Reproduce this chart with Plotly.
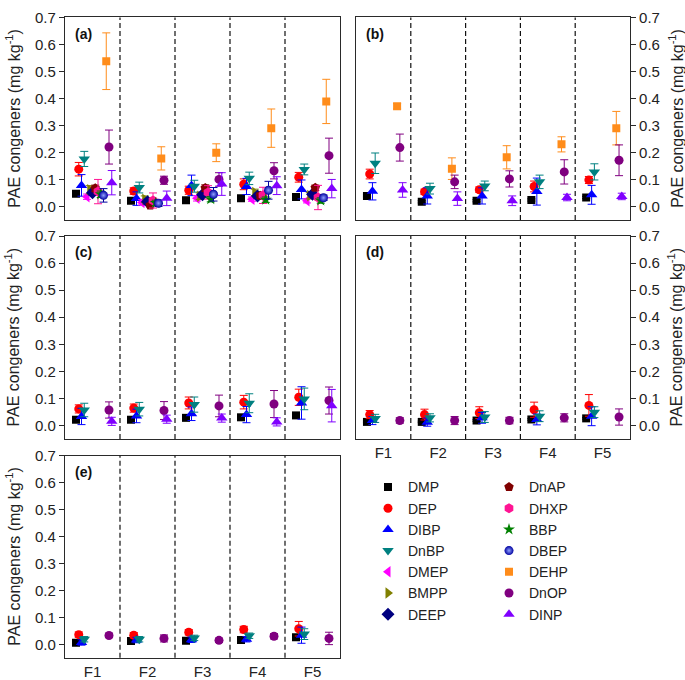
import plotly.graph_objects as go

# ---------------- data ----------------
groups = ["F1", "F2", "F3", "F4", "F5"]
congeners = ["DMP", "DEP", "DIBP", "DnBP", "DMEP", "BMPP", "DEEP",
             "DnAP", "DHXP", "BBP", "DBEP", "DEHP", "DnOP", "DINP"]

# panel (a): mean and SD (mg kg-1)
a_DMP = [0.047, 0.021, 0.023, 0.030, 0.035]
a_DMP_sd = [0.004, 0.004, 0.004, 0.004, 0.004]
a_DEP = [0.138, 0.057, 0.060, 0.082, 0.108]
a_DEP_sd = [0.025, 0.012, 0.015, 0.020, 0.018]
a_DIBP = [0.078, 0.029, 0.078, 0.074, 0.063]
a_DIBP_sd = [0.040, 0.025, 0.038, 0.030, 0.035]
a_DnBP = [0.176, 0.070, 0.075, 0.104, 0.137]
a_DnBP_sd = [0.028, 0.020, 0.022, 0.023, 0.020]
a_DMEP = [0.036, 0.015, 0.030, 0.027, 0.021]
a_DMEP_sd = [0.010, 0.010, 0.010, 0.008, 0.008]
a_BMPP = [0.062, 0.027, 0.038, 0.052, 0.040]
a_BMPP_sd = [0.015, 0.012, 0.012, 0.012, 0.012]
a_DEEP = [0.051, 0.017, 0.043, 0.039, 0.045]
a_DEEP_sd = [0.010, 0.010, 0.010, 0.010, 0.010]
a_DnAP = [0.067, 0.004, 0.068, 0.040, 0.069]
a_DnAP_sd = [0.012, 0.006, 0.012, 0.010, 0.010]
a_DHXP = [0.055, 0.022, 0.052, 0.041, 0.033]
a_DHXP_sd = [0.045, 0.028, 0.025, 0.030, 0.045]
a_BBP = [0.045, 0.013, 0.027, 0.025, 0.022]
a_BBP_sd = [0.012, 0.010, 0.010, 0.010, 0.010]
a_DBEP = [0.041, 0.012, 0.045, 0.060, 0.032]
a_DBEP_sd = [0.025, 0.012, 0.025, 0.033, 0.010]
a_DEHP = [0.538, 0.178, 0.199, 0.290, 0.389]
a_DEHP_sd = [0.105, 0.043, 0.033, 0.071, 0.082]
a_DnOP = [0.220, 0.097, 0.100, 0.132, 0.188]
a_DnOP_sd = [0.063, 0.015, 0.025, 0.030, 0.065]
a_DINP = [0.088, 0.030, 0.083, 0.077, 0.066]
a_DINP_sd = [0.045, 0.027, 0.042, 0.033, 0.034]

# panel (b)
b_DMP = [0.039, 0.017, 0.021, 0.024, 0.033]
b_DMP_sd = [0.004, 0.004, 0.004, 0.004, 0.004]
b_DEP = [0.120, 0.054, 0.062, 0.074, 0.098]
b_DEP_sd = [0.018, 0.010, 0.010, 0.020, 0.013]
b_DIBP = [0.056, 0.039, 0.039, 0.055, 0.043]
b_DIBP_sd = [0.032, 0.030, 0.030, 0.050, 0.035]
b_DnBP = [0.160, 0.066, 0.076, 0.091, 0.128]
b_DnBP_sd = [0.038, 0.020, 0.018, 0.025, 0.030]
b_DEHP = [0.371, 0.140, 0.182, 0.230, 0.290]
b_DEHP_sd = [0.010, 0.040, 0.043, 0.028, 0.062]
b_DnOP = [0.218, 0.091, 0.102, 0.128, 0.171]
b_DnOP_sd = [0.050, 0.025, 0.030, 0.045, 0.057]
b_DINP = [0.061, 0.029, 0.021, 0.033, 0.037]
b_DINP_sd = [0.027, 0.025, 0.018, 0.012, 0.012]

# panel (c)
c_DMP = [0.021, 0.021, 0.028, 0.030, 0.037]
c_DMP_sd = [0.004, 0.004, 0.004, 0.004, 0.004]
c_DEP = [0.061, 0.064, 0.083, 0.086, 0.104]
c_DEP_sd = [0.015, 0.015, 0.022, 0.025, 0.030]
c_DIBP = [0.033, 0.035, 0.043, 0.040, 0.083]
c_DIBP_sd = [0.030, 0.025, 0.025, 0.030, 0.060]
c_DnBP = [0.057, 0.060, 0.077, 0.082, 0.098]
c_DnBP_sd = [0.025, 0.025, 0.028, 0.035, 0.040]
c_DnOP = [0.057, 0.055, 0.072, 0.079, 0.092]
c_DnOP_sd = [0.030, 0.033, 0.040, 0.050, 0.050]
c_DINP = [0.015, 0.023, 0.027, 0.013, 0.073]
c_DINP_sd = [0.015, 0.015, 0.015, 0.015, 0.060]

# panel (d)
d_DMP = [0.013, 0.013, 0.018, 0.022, 0.026]
d_DMP_sd = [0.003, 0.003, 0.003, 0.003, 0.003]
d_DEP = [0.040, 0.040, 0.047, 0.058, 0.074]
d_DEP_sd = [0.015, 0.020, 0.022, 0.028, 0.040]
d_DIBP = [0.018, 0.012, 0.028, 0.022, 0.034]
d_DIBP_sd = [0.015, 0.015, 0.020, 0.020, 0.035]
d_DnBP = [0.026, 0.028, 0.031, 0.034, 0.049]
d_DnBP_sd = [0.015, 0.015, 0.020, 0.020, 0.020]
d_DnOP = [0.018, 0.018, 0.018, 0.028, 0.031]
d_DnOP_sd = [0.010, 0.015, 0.012, 0.015, 0.030]

# panel (e)
e_DMP = [0.006, 0.012, 0.013, 0.016, 0.026]
e_DMP_sd = [0.003, 0.003, 0.003, 0.003, 0.003]
e_DEP = [0.036, 0.034, 0.045, 0.055, 0.058]
e_DEP_sd = [0.010, 0.010, 0.010, 0.012, 0.027]
e_DIBP = [0.007, 0.016, 0.017, 0.019, 0.034]
e_DIBP_sd = [0.010, 0.010, 0.010, 0.010, 0.030]
e_DnBP = [0.019, 0.019, 0.024, 0.032, 0.038]
e_DnBP_sd = [0.010, 0.010, 0.010, 0.010, 0.020]
e_DnOP = [0.033, 0.022, 0.015, 0.030, 0.022]
e_DnOP_sd = [0.008, 0.013, 0.008, 0.010, 0.023]

panel_labels = ["(a)", "(b)", "(c)", "(d)", "(e)"]
y_title = "PAE congeners (mg kg<sup>-1</sup>)"
y_ticks = [0.0, 0.1, 0.2, 0.3, 0.4, 0.5, 0.6, 0.7]

# tables built from the lists above
g = globals()
panels = []
for p in "abcde":
    panels.append({c: (g[f"{p}_{c}"], g[f"{p}_{c}_sd"]) for c in congeners if f"{p}_{c}" in g})

# ---------------- styles ----------------
STYLE = {
    "DMP": ("square", "#000000", 8),
    "DEP": ("circle", "#FF0000", 9),
    "DIBP": ("triangle-up", "#0000FF", 10),
    "DnBP": ("triangle-down", "#008080", 10),
    "DMEP": ("triangle-left", "#FF00FF", 10),
    "BMPP": ("triangle-right", "#808000", 10),
    "DEEP": ("diamond", "#000080", 10),
    "DnAP": ("pentagon", "#800000", 10),
    "DHXP": ("hexagon", "#FF1493", 10),
    "BBP": ("star", "#008000", 9),
    "DBEP": ("circle", "#0000A0", 9),
    "DEHP": ("square", "#FF8C1A", 8),
    "DnOP": ("circle", "#800080", 9),
    "DINP": ("triangle-up", "#8000FF", 10),
}
FONT = "Arial, Liberation Sans, sans-serif"
AX = "#2a2a2a"
W, H = 685, 680

# panel boxes in pixels (left, right, top, bottom)
boxes = [(65, 340, 8.6, 214.4), (356, 630, 8.6, 214.4),
         (65, 340, 230.8, 437.0), (356, 630, 230.8, 437.0),
         (65, 340, 454.0, 659.5)]

fig = go.Figure()
for pi, data in enumerate(panels):
    n = pi + 1
    xa = "x" if n == 1 else f"x{n}"
    ya = "y" if n == 1 else f"y{n}"
    for c, (mean, sd) in data.items():
        k = congeners.index(c)
        off = -0.3 + 0.05 * k
        sym, col, size = STYLE[c]
        marker = dict(symbol=sym, color=col, size=size, line=dict(width=0))
        if c == "DBEP":
            marker["gradient"] = dict(type="radial", color="#8fa0ff")
        fig.add_trace(go.Scatter(
            x=[i + 1 + off for i in range(len(groups))], y=mean,
            mode="markers", name=c, marker=marker,
            error_y=dict(type="data", array=sd, color=col, thickness=1, width=4),
            xaxis=xa, yaxis=ya,
            showlegend=(pi == 0),
            legend="legend" if k < 7 else "legend2",
        ))

layout = dict(
    width=W, height=H, margin=dict(l=0, r=0, t=0, b=0),
    paper_bgcolor="white", plot_bgcolor="white",
    font=dict(family=FONT, size=15, color="#222"),
    legend=dict(x=368 / W, y=1 - 470 / H, xanchor="left", yanchor="top",
                font=dict(size=14, color="#222"), bgcolor="rgba(0,0,0,0)",
                tracegroupgap=0),
    legend2=dict(x=489 / W, y=1 - 470 / H, xanchor="left", yanchor="top",
                 font=dict(size=14, color="#222"), bgcolor="rgba(0,0,0,0)",
                 tracegroupgap=0),
)
shapes = []
annotations = []
for pi, (l, r, t, b) in enumerate(boxes):
    n = pi + 1
    sfx = "" if n == 1 else str(n)
    right = pi in (1, 3)
    layout[f"xaxis{sfx}"] = dict(
        domain=[l / W, r / W], range=[0.5, 5.5], anchor=f"y{sfx}",
        tickvals=[1, 2, 3, 4, 5], ticktext=groups,
        showticklabels=(n in (4, 5)), ticks="",
        showline=True, mirror=True, linecolor=AX, linewidth=1.2,
        showgrid=False, zeroline=False, tickfont=dict(size=15),
    )
    layout[f"yaxis{sfx}"] = dict(
        domain=[1 - b / H, 1 - t / H], range=[-0.05, 0.7001], anchor=f"x{sfx}",
        tickvals=y_ticks, ticktext=[f"{v:.1f}" for v in y_ticks],
        side="right" if right else "left",
        ticks="outside", ticklen=5, tickwidth=1.2, tickcolor=AX,
        showline=True, mirror=True, linecolor=AX, linewidth=1.2,
        showgrid=False, zeroline=False, tickfont=dict(size=15),
    )
    for bx in [1.5, 2.5, 3.5, 4.5]:
        shapes.append(dict(type="line", xref=f"x{sfx}", yref=f"y{sfx} domain",
                           x0=bx, x1=bx, y0=0, y1=1,
                           line=dict(color="#111", width=1.2, dash="5px,3px")))
    annotations.append(dict(text=f"<b>{panel_labels[pi]}</b>",
                            xref=f"x{sfx} domain", yref=f"y{sfx} domain",
                            x=0.03, y=0.92, xanchor="left", yanchor="middle",
                            showarrow=False, font=dict(size=14, color="#111")))
    # axis title
    tx = 676 if right else 13
    annotations.append(dict(text=y_title, xref="paper", yref=f"y{sfx} domain",
                            x=tx / W, y=0.5, xanchor="center", yanchor="middle",
                            textangle=-90, showarrow=False,
                            font=dict(size=16, color="#222")))
layout["shapes"] = shapes
layout["annotations"] = annotations
fig.update_layout(**layout)
fig.write_html("out.html", config={"displayModeBar": False},
               post_script="document.body.style.margin='0';")
